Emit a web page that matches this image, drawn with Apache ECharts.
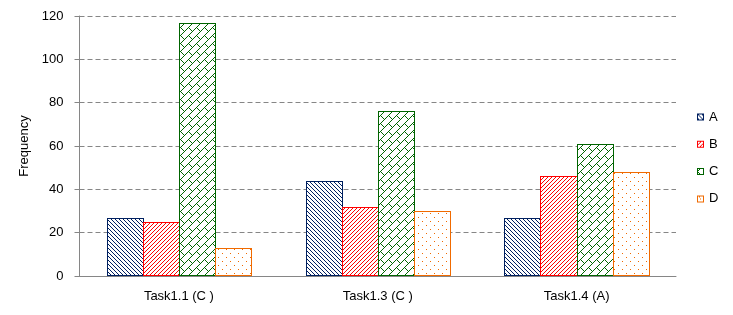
<!DOCTYPE html>
<html><head><meta charset="utf-8">
<script src="https://cdn.jsdelivr.net/npm/echarts@6/dist/echarts.min.js"></script>
<style>html,body{margin:0;padding:0;background:#fff}#c{width:733px;height:315px}</style>
</head><body><div id="c"></div>
<script>
const categories = ['Task1.1 (C )', 'Task1.3 (C )', 'Task1.4 (A)'];
const seriesNames = ['A', 'B', 'C', 'D'];
const valuesA = [27, 44, 27];
const valuesB = [25, 32, 46];
const valuesC = [117, 76, 61];
const valuesD = [13, 30, 48];
const yTicks = [0, 20, 40, 60, 80, 100, 120];

const colors = ['#002060', '#ff0000', '#006400', '#f06a00'];
const mod = (a, n) => ((a % n) + n) % n;
function shingle(x, y) {
  const s = x + y, d = x - y;
  const k = Math.floor((s - 7) / 8), m = mod(s - 7, 8);
  if (m === 0) return true;
  return (m === 2 || m === 4 || m === 6) && mod(d - 8 * k - 1, 16) === 0;
}
const rules = [
  (x, y) => mod(x - y, 4) === 0,
  (x, y) => mod(x + y, 4) === 0,
  shingle,
  (x, y) => { const tx = mod(x, 8), ty = mod(y, 8); return (tx === 2 && ty === 1) || (tx === 6 && ty === 5); }
];
const allValues = [valuesA, valuesB, valuesC, valuesD];

function hatchPath(L, T, R, B, rule) {
  const w = R - L + 1, h = B - T + 1;
  let d = `M${L} ${T}h${w}v1h${-w}Z M${L} ${T}h1v${h}h-1Z M${R} ${T}h1v${h}h-1Z M${L} ${B}h${w}v1h${-w}Z`;
  for (let y = T + 1; y < B; y++) {
    for (let x = L + 1; x < R; x++) {
      if (rule(x, y)) d += `M${x} ${y}h1v1h-1Z`;
    }
  }
  return d;
}

function makeRender(sIdx) {
  return function (params, api) {
    const cat = api.value(0), v = api.value(1);
    const top = api.coord([cat, v]);
    const base = api.coord([cat, 0]);
    const band = api.size([1, 0])[0];
    const groupW = band * 0.726, bw = groupW / 4;
    const left = top[0] - groupW / 2 + sIdx * bw;
    const L = Math.round(left), R = Math.round(left + bw);
    const T = Math.round(top[1]), B = Math.round(base[1]) - 1;
    return {
      type: 'group',
      children: [
        { type: 'rect', shape: { x: L, y: T, width: R - L + 1, height: B - T + 1 }, style: { fill: '#ffffff', stroke: null } },
        { type: 'path', shape: { pathData: hatchPath(L, T, R, B, rules[sIdx]) }, style: { fill: colors[sIdx], stroke: null } }
      ]
    };
  };
}

function legendIcon(sIdx) {
  const shift = [0, 0, 4, 0][sIdx];
  return 'path://' + hatchPath(0, 0, 6, 6, (x, y) => rules[sIdx](x + shift, y) || (sIdx === 3 && x === 3 && y === 3));
}

const font = 'Liberation Sans';
const chart = echarts.init(document.getElementById('c'));
chart.setOption({
  animation: false,
  textStyle: { fontFamily: font },
  grid: { left: 79.5, right: 57, top: 16, bottom: 39 },
  legend: {
    orient: 'vertical', left: 692, top: 105.5, itemWidth: 7, itemHeight: 7, itemGap: 14.3,
    textStyle: { fontFamily: font, fontSize: 13, color: '#000' },
    data: seriesNames.map((n, i) => ({ name: n, icon: legendIcon(i), itemStyle: { color: colors[i], borderWidth: 0 } }))
  },
  xAxis: {
    type: 'category', data: categories,
    axisLine: { lineStyle: { color: '#868686' } },
    axisTick: { lineStyle: { color: '#868686' }, length: 5 },
    axisLabel: { color: '#000', fontSize: 13, margin: 14, fontFamily: font }
  },
  yAxis: {
    type: 'value', min: yTicks[0], max: yTicks[yTicks.length - 1], interval: 20,
    name: 'Frequency', nameLocation: 'middle', nameGap: 41, nameRotate: 90,
    nameTextStyle: { color: '#000', fontSize: 13, fontFamily: font },
    axisLine: { show: true, lineStyle: { color: '#868686' } },
    axisTick: { show: true, lineStyle: { color: '#868686' }, length: 5 },
    axisLabel: { color: '#000', fontSize: 13, margin: 16, fontFamily: font },
    splitLine: { lineStyle: { color: '#868686', type: [5, 3] } }
  },
  series: seriesNames.map((n, i) => ({
    name: n, type: 'custom', renderItem: makeRender(i),
    itemStyle: { color: colors[i] },
    encode: { x: 0, y: 1 },
    emphasis: { disabled: true },
    z: 3,
    data: allValues[i].map((v, k) => [k, v])
  }))
});
</script></body></html>
